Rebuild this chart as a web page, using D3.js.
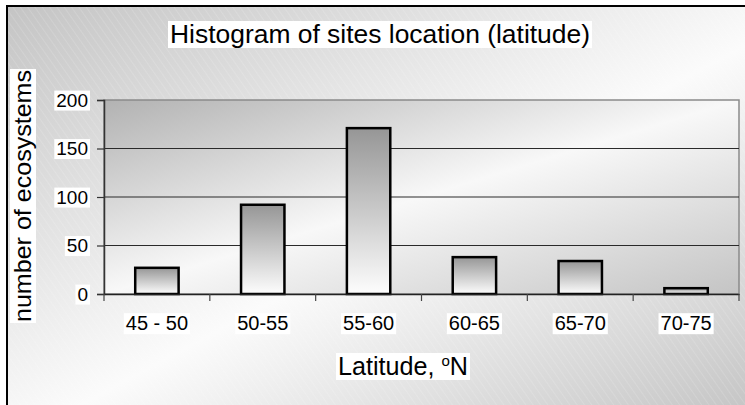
<!DOCTYPE html>
<html><head><meta charset="utf-8">
<script src="https://cdn.jsdelivr.net/npm/d3@7"></script>
<style>html,body{margin:0;padding:0;background:#fff;}svg{display:block;}</style>
</head><body>
<svg id="chart" width="745" height="405"></svg>
<script>
const categories = ["45 - 50", "50-55", "55-60", "60-65", "65-70", "70-75"];
const counts = [27, 92, 171, 38, 34, 6];
const yTicks = [0, 50, 100, 150, 200];
const titleText = "Histogram of sites location (latitude)";
const yLabel = "number of ecosystems";

const svg = d3.select("#chart");
const W = 745, H = 405;
const m = {left: 104, right: 739, top: 100, bottom: 294};

const defs = svg.append("defs");
const bgGrad = defs.append("linearGradient").attr("id","bgGrad")
  .attr("x1","0").attr("y1","0").attr("x2","1").attr("y2","1");
bgGrad.append("stop").attr("offset","0").attr("stop-color","#c4c4c4");
bgGrad.append("stop").attr("offset","0.55").attr("stop-color","#fbfbfb");
bgGrad.append("stop").attr("offset","1").attr("stop-color","#c6c6c6");

const plotGrad = defs.append("linearGradient").attr("id","plotGrad")
  .attr("x1","0").attr("y1","0").attr("x2","1").attr("y2","1");
plotGrad.append("stop").attr("offset","0").attr("stop-color","#b2b2b2");
plotGrad.append("stop").attr("offset","0.5").attr("stop-color","#f8f8f8");
plotGrad.append("stop").attr("offset","1").attr("stop-color","#c4c4c4");

const barGrad = defs.append("linearGradient").attr("id","barGrad")
  .attr("x1","0").attr("y1","0").attr("x2","0").attr("y2","1");
barGrad.append("stop").attr("offset","0").attr("stop-color","#969696");
barGrad.append("stop").attr("offset","1").attr("stop-color","#fdfdfd");

const hatch = defs.append("pattern").attr("id","hatch").attr("patternUnits","userSpaceOnUse")
  .attr("width",6).attr("height",6).attr("patternTransform","rotate(-35)");
hatch.append("line").attr("x1",0).attr("y1",0).attr("x2",0).attr("y2",6)
  .attr("stroke","#ffffff").attr("stroke-width",0.8).attr("stroke-opacity",0.35);

// background
svg.append("rect").attr("x",0).attr("y",0).attr("width",W).attr("height",H).attr("fill","#fff");
svg.append("rect").attr("x",7).attr("y",6).attr("width",W-7).attr("height",H-6).attr("fill","url(#bgGrad)");
svg.append("rect").attr("x",7).attr("y",6).attr("width",W-7).attr("height",H-6).attr("fill","url(#hatch)");
svg.append("line").attr("x1",7).attr("x2",7).attr("y1",5).attr("y2",H).attr("stroke","#000").attr("stroke-width",2);
svg.append("line").attr("x1",6).attr("x2",W).attr("y1",6).attr("y2",6).attr("stroke","#000").attr("stroke-width",2);

const x = d3.scaleBand().domain(categories).range([m.left, m.right]).paddingInner(0.59).paddingOuter(0.295);
const xb = d3.scaleBand().domain(categories).range([m.left, m.right]);
const y = d3.scaleLinear().domain([0, 200]).range([m.bottom, m.top]);

// plot area
svg.append("rect").attr("x",m.left).attr("y",m.top).attr("width",m.right-m.left).attr("height",m.bottom-m.top)
  .attr("fill","url(#plotGrad)").attr("stroke","#8a8a8a").attr("stroke-width",1.5);

// gridlines
svg.append("g").selectAll("line").data(yTicks.filter(d=>d>0 && d<200)).join("line")
  .attr("x1",m.left).attr("x2",m.right).attr("y1",d=>y(d)).attr("y2",d=>y(d))
  .attr("stroke","#2a2a2a").attr("stroke-width",1.2);

// bars
svg.append("g").selectAll("rect").data(categories).join("rect")
  .attr("x",d=>x(d)).attr("width",x.bandwidth())
  .attr("y",(d,i)=>y(counts[i])).attr("height",(d,i)=>y(0)-y(counts[i]))
  .attr("fill","url(#barGrad)").attr("stroke","#000").attr("stroke-width",2.5);

// axes
const yAxis = d3.axisLeft(y).tickValues(yTicks).tickSize(7).tickPadding(9).tickFormat(d3.format("d"));
const gy = svg.append("g").attr("transform",`translate(${m.left},0)`).call(yAxis);
gy.select(".domain").attr("stroke","#333").attr("stroke-width",1.5);
gy.selectAll(".tick line").attr("stroke","#333").attr("stroke-width",1.2);
gy.selectAll("text").attr("font-family","Liberation Sans, Arial, sans-serif").attr("font-size",19).attr("fill","#000");

const xAxis = d3.axisBottom(xb).tickSize(0).tickPadding(22);
const gx = svg.append("g").attr("transform",`translate(0,${m.bottom})`).call(xAxis);
gx.select(".domain").attr("stroke","#222").attr("stroke-width",1.5);
gx.selectAll("text").attr("font-family","Liberation Sans, Arial, sans-serif").attr("font-size",20).attr("fill","#000");
// boundary ticks
const bounds = categories.map(c=>xb(c)).concat([m.right]);
svg.append("g").selectAll("line").data(bounds).join("line")
  .attr("x1",d=>d).attr("x2",d=>d).attr("y1",m.bottom).attr("y2",m.bottom+7)
  .attr("stroke","#444").attr("stroke-width",1.2);

// title
const title = svg.append("text").attr("x",380).attr("y",43).attr("text-anchor","middle")
  .attr("font-family","Liberation Sans, Arial, sans-serif").attr("font-size",25)
  .attr("textLength",420).attr("lengthAdjust","spacingAndGlyphs").text(titleText);

// x label
const xl = svg.append("text").attr("x",403).attr("y",375).attr("text-anchor","middle")
  .attr("font-family","Liberation Sans, Arial, sans-serif").attr("font-size",25)
  .attr("textLength",130).attr("lengthAdjust","spacingAndGlyphs");
xl.append("tspan").text("Latitude, ");
xl.append("tspan").attr("dy",-9).attr("font-size",15).text("o");
xl.append("tspan").attr("dy",9).text("N");

// y label
const yl = svg.append("text").attr("transform","translate(31,196) rotate(-90)").attr("text-anchor","middle")
  .attr("font-family","Liberation Sans, Arial, sans-serif").attr("font-size",24)
  .attr("textLength",252).attr("lengthAdjust","spacingAndGlyphs").text(yLabel);

// white boxes behind text
function boxBehind(sel, pad) {
  sel.each(function(){
    const bb = this.getBBox();
    const parent = this.parentNode;
    const tr = this.getAttribute("transform");
    const r = document.createElementNS("http://www.w3.org/2000/svg","rect");
    r.setAttribute("x", bb.x - pad); r.setAttribute("y", bb.y + 1);
    r.setAttribute("width", bb.width + 2*pad); r.setAttribute("height", bb.height - 1);
    r.setAttribute("fill","#fff");
    if (tr) r.setAttribute("transform", tr);
    parent.insertBefore(r, this);
  });
}
boxBehind(title, 2);
boxBehind(xl, 2);
boxBehind(yl, 1);
boxBehind(gy.selectAll("text"), 2);
boxBehind(gx.selectAll("text"), 2);
</script>
</body></html>
